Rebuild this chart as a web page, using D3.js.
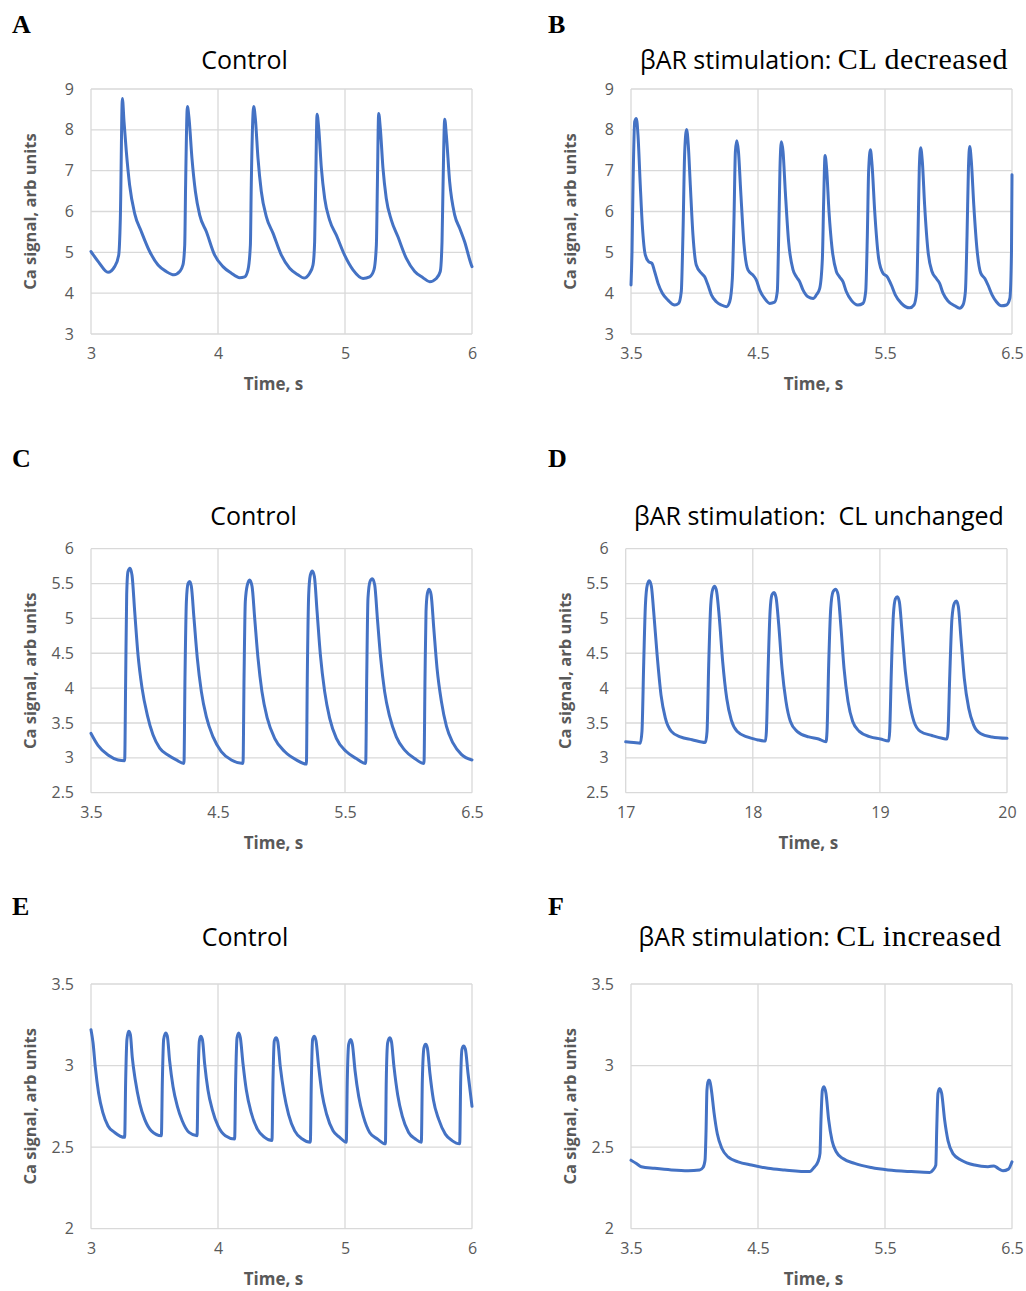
<!DOCTYPE html>
<html><head><meta charset="utf-8">
<script src="https://cdn.jsdelivr.net/npm/d3@7"></script>
<style>body{margin:0;background:#fff}</style>
</head><body>
<svg id="c" width="1026" height="1291" xmlns="http://www.w3.org/2000/svg"></svg>
<script>
// ---------- DATA ----------
const traceA = [[3,5.02],[3.06,4.76],[3.134,4.51],[3.186,4.65],[3.218,4.93],[3.231,5.83],[3.247,8.77],[3.26,8.2],[3.278,7.47],[3.304,6.65],[3.344,5.95],[3.396,5.51],[3.462,5.02],[3.528,4.69],[3.593,4.53],[3.654,4.45],[3.698,4.53],[3.724,4.69],[3.738,5.18],[3.745,6.65],[3.759,8.57],[3.772,8.28],[3.795,7.3],[3.822,6.49],[3.856,5.91],[3.908,5.51],[3.974,4.93],[4.039,4.65],[4.105,4.49],[4.171,4.38],[4.21,4.4],[4.236,4.57],[4.255,5.18],[4.262,6.65],[4.281,8.57],[4.294,8.28],[4.315,7.3],[4.341,6.49],[4.381,5.87],[4.433,5.47],[4.499,4.93],[4.564,4.61],[4.63,4.45],[4.677,4.37],[4.722,4.49],[4.748,4.69],[4.761,5.26],[4.769,6.65],[4.78,8.38],[4.793,8.04],[4.814,7.06],[4.84,6.32],[4.879,5.79],[4.932,5.42],[4.997,4.93],[5.063,4.57],[5.142,4.36],[5.194,4.4],[5.228,4.57],[5.247,5.18],[5.255,6.65],[5.265,8.4],[5.278,8.04],[5.299,7.06],[5.325,6.32],[5.365,5.79],[5.417,5.38],[5.483,4.85],[5.549,4.53],[5.614,4.38],[5.667,4.28],[5.719,4.36],[5.75,4.53],[5.764,5.26],[5.772,6.65],[5.785,8.26],[5.798,7.87],[5.824,6.73],[5.864,5.91],[5.903,5.59],[5.942,5.26],[5.995,4.69],[6,4.65]];

const traceB = [[3.5,4.2],[3.508,5.02],[3.516,6.65],[3.529,8.2],[3.542,8.28],[3.555,7.87],[3.573,6.65],[3.589,5.67],[3.613,4.93],[3.639,4.77],[3.665,4.73],[3.686,4.53],[3.713,4.24],[3.747,4.0],[3.791,3.83],[3.844,3.71],[3.875,3.75],[3.896,4.04],[3.909,5.42],[3.923,7.47],[3.938,8.01],[3.951,7.63],[3.967,6.65],[3.988,5.42],[4.014,4.69],[4.054,4.49],[4.08,4.4],[4.106,4.2],[4.133,3.96],[4.172,3.79],[4.211,3.71],[4.251,3.67],[4.277,3.79],[4.298,4.36],[4.311,5.83],[4.322,7.47],[4.333,7.73],[4.346,7.47],[4.364,6.49],[4.39,5.18],[4.421,4.57],[4.461,4.44],[4.487,4.32],[4.513,4.08],[4.552,3.87],[4.592,3.75],[4.631,3.78],[4.652,4.04],[4.663,5.42],[4.673,7.06],[4.684,7.71],[4.697,7.47],[4.715,6.49],[4.741,5.26],[4.776,4.57],[4.802,4.4],[4.828,4.28],[4.854,4.08],[4.894,3.91],[4.934,3.87],[4.96,3.96],[4.986,4.12],[5.007,4.85],[5.017,6.24],[5.028,7.37],[5.04,7.06],[5.059,6.0],[5.083,5.1],[5.117,4.53],[5.142,4.4],[5.169,4.28],[5.195,4.04],[5.234,3.83],[5.287,3.71],[5.327,3.75],[5.348,4.04],[5.361,5.42],[5.371,6.98],[5.385,7.51],[5.398,7.14],[5.419,6.0],[5.45,4.85],[5.484,4.49],[5.518,4.4],[5.55,4.2],[5.581,3.96],[5.629,3.75],[5.694,3.64],[5.728,3.71],[5.749,4.04],[5.76,5.42],[5.77,7.06],[5.781,7.56],[5.794,7.22],[5.812,6.16],[5.839,5.02],[5.87,4.53],[5.904,4.36],[5.93,4.24],[5.957,4.0],[5.996,3.81],[6.049,3.69],[6.088,3.63],[6.114,3.71],[6.133,4.04],[6.146,5.42],[6.157,7.06],[6.167,7.59],[6.18,7.22],[6.199,6.16],[6.226,5.02],[6.254,4.49],[6.286,4.36],[6.311,4.2],[6.343,3.96],[6.377,3.79],[6.417,3.69],[6.457,3.71],[6.483,3.87],[6.496,5.02],[6.5,6.9]];

const traceC = [[3.5,3.35],[3.555,3.18],[3.634,3.04],[3.713,2.97],[3.765,2.96],[3.773,4.14],[3.781,5.34],[3.791,5.67],[3.807,5.72],[3.823,5.62],[3.844,5.1],[3.87,4.48],[3.902,4.0],[3.944,3.61],[3.988,3.33],[4.041,3.14],[4.106,3.04],[4.172,2.97],[4.232,2.92],[4.24,4.14],[4.251,5.24],[4.264,5.5],[4.277,5.53],[4.29,5.46],[4.311,5.0],[4.337,4.43],[4.369,3.95],[4.408,3.59],[4.461,3.3],[4.526,3.09],[4.605,2.97],[4.697,2.92],[4.705,4.14],[4.715,5.24],[4.731,5.48],[4.749,5.55],[4.768,5.46],[4.789,5.0],[4.815,4.43],[4.846,3.95],[4.888,3.57],[4.946,3.28],[5.025,3.09],[5.117,2.97],[5.196,2.91],[5.203,4.14],[5.214,5.34],[5.227,5.62],[5.243,5.68],[5.259,5.6],[5.28,5.1],[5.306,4.48],[5.34,3.95],[5.379,3.57],[5.432,3.28],[5.51,3.09],[5.589,2.99],[5.663,2.92],[5.671,4.14],[5.681,5.29],[5.697,5.53],[5.715,5.57],[5.734,5.48],[5.755,5.0],[5.781,4.43],[5.812,3.95],[5.852,3.59],[5.904,3.3],[5.97,3.11],[6.049,2.99],[6.122,2.92],[6.13,4.14],[6.138,5.1],[6.149,5.36],[6.162,5.42],[6.178,5.34],[6.199,4.86],[6.225,4.28],[6.259,3.81],[6.299,3.45],[6.351,3.21],[6.416,3.05],[6.5,2.97]];

const traceD = [[17,3.23],[17.063,3.22],[17.115,3.21],[17.128,3.38],[17.142,4.38],[17.155,5.19],[17.17,5.48],[17.186,5.54],[17.202,5.46],[17.22,5.1],[17.247,4.48],[17.278,3.9],[17.312,3.57],[17.359,3.38],[17.43,3.3],[17.522,3.26],[17.627,3.22],[17.64,3.38],[17.653,4.33],[17.669,5.19],[17.685,5.42],[17.7,5.46],[17.716,5.38],[17.737,5.0],[17.763,4.38],[17.795,3.85],[17.831,3.54],[17.876,3.38],[17.955,3.3],[18.033,3.26],[18.099,3.24],[18.107,3.38],[18.12,4.24],[18.136,5.1],[18.151,5.34],[18.167,5.37],[18.183,5.3],[18.204,4.91],[18.23,4.28],[18.261,3.81],[18.296,3.52],[18.348,3.38],[18.44,3.3],[18.518,3.27],[18.576,3.23],[18.584,3.38],[18.597,4.33],[18.613,5.14],[18.631,5.38],[18.652,5.42],[18.671,5.34],[18.692,4.91],[18.718,4.28],[18.749,3.81],[18.786,3.52],[18.838,3.38],[18.925,3.3],[19.004,3.27],[19.069,3.24],[19.077,3.38],[19.09,4.24],[19.106,5.05],[19.122,5.28],[19.137,5.31],[19.153,5.24],[19.174,4.81],[19.2,4.24],[19.232,3.81],[19.268,3.52],[19.318,3.38],[19.41,3.32],[19.489,3.28],[19.528,3.27],[19.536,3.38],[19.549,4.14],[19.567,5.0],[19.586,5.22],[19.602,5.25],[19.617,5.17],[19.638,4.71],[19.664,4.14],[19.699,3.71],[19.738,3.47],[19.791,3.35],[19.882,3.3],[20,3.28]];

const traceE = [[3,3.22],[3.016,3.14],[3.034,2.99],[3.06,2.83],[3.094,2.71],[3.134,2.63],[3.186,2.59],[3.265,2.56],[3.273,2.91],[3.283,3.16],[3.297,3.21],[3.31,3.19],[3.325,3.05],[3.349,2.91],[3.383,2.77],[3.423,2.67],[3.475,2.6],[3.554,2.57],[3.562,2.91],[3.572,3.16],[3.588,3.2],[3.601,3.18],[3.619,3.03],[3.646,2.87],[3.68,2.75],[3.719,2.66],[3.772,2.59],[3.835,2.57],[3.843,2.91],[3.853,3.15],[3.864,3.18],[3.877,3.16],[3.895,3.01],[3.921,2.85],[3.955,2.73],[4.0,2.63],[4.058,2.57],[4.131,2.55],[4.139,2.91],[4.15,3.17],[4.163,3.2],[4.176,3.17],[4.197,3.01],[4.223,2.85],[4.262,2.71],[4.31,2.61],[4.367,2.56],[4.425,2.54],[4.433,2.91],[4.443,3.15],[4.457,3.17],[4.47,3.15],[4.491,2.99],[4.52,2.83],[4.556,2.7],[4.604,2.6],[4.664,2.55],[4.727,2.53],[4.735,2.91],[4.745,3.16],[4.759,3.18],[4.772,3.15],[4.793,2.99],[4.819,2.83],[4.856,2.7],[4.906,2.6],[4.958,2.56],[5.01,2.53],[5.018,2.91],[5.029,3.13],[5.045,3.16],[5.058,3.13],[5.079,2.97],[5.108,2.81],[5.144,2.69],[5.194,2.59],[5.255,2.55],[5.318,2.52],[5.325,2.91],[5.336,3.14],[5.352,3.17],[5.365,3.15],[5.386,2.99],[5.415,2.82],[5.451,2.69],[5.501,2.59],[5.554,2.55],[5.601,2.53],[5.609,2.91],[5.622,3.11],[5.635,3.13],[5.648,3.11],[5.669,2.95],[5.696,2.79],[5.738,2.67],[5.79,2.58],[5.843,2.54],[5.903,2.52],[5.911,2.91],[5.921,3.1],[5.934,3.12],[5.948,3.1],[5.969,2.95],[6,2.75]];

const traceF = [[3.5,2.42],[3.542,2.4],[3.581,2.38],[3.686,2.37],[3.818,2.36],[3.949,2.355],[4.041,2.36],[4.067,2.375],[4.083,2.42],[4.091,2.6],[4.098,2.85],[4.109,2.91],[4.119,2.91],[4.133,2.85],[4.154,2.71],[4.18,2.58],[4.217,2.49],[4.264,2.44],[4.343,2.41],[4.448,2.39],[4.579,2.37],[4.71,2.36],[4.907,2.35],[4.946,2.38],[4.972,2.41],[4.988,2.46],[4.996,2.67],[5.007,2.85],[5.02,2.87],[5.035,2.83],[5.056,2.67],[5.083,2.54],[5.117,2.47],[5.169,2.43],[5.261,2.4],[5.392,2.375],[5.524,2.36],[5.707,2.35],[5.852,2.345],[5.878,2.36],[5.9,2.39],[5.907,2.6],[5.917,2.83],[5.93,2.86],[5.946,2.83],[5.969,2.67],[5.996,2.54],[6.035,2.46],[6.101,2.42],[6.206,2.39],[6.311,2.38],[6.358,2.385],[6.39,2.37],[6.429,2.355],[6.472,2.365],[6.5,2.41]];

const xTicksA = [3,4,5,6], yTicksA = [3,4,5,6,7,8,9];
const xTicksB = [3.5,4.5,5.5,6.5], yTicksB = [3,4,5,6,7,8,9];
const xTicksC = [3.5,4.5,5.5,6.5], yTicksC = [2.5,3,3.5,4,4.5,5,5.5,6];
const xTicksD = [17,18,19,20], yTicksD = [2.5,3,3.5,4,4.5,5,5.5,6];
const xTicksE = [3,4,5,6], yTicksE = [2,2.5,3,3.5];
const xTicksF = [3.5,4.5,5.5,6.5], yTicksF = [2,2.5,3,3.5];

const panelLetters = ["A","B","C","D","E","F"];
// title: [sans part, serif part]
const titleA = ["Control", ""];
const titleB = ["βAR stimulation: ", "CL decreased"];
const titleC = ["Control", ""];
const titleD = ["βAR stimulation:  CL unchanged", ""];
const titleE = ["Control", ""];
const titleF = ["βAR stimulation: ", "CL increased"];
const xAxisTitle = "Time, s";
const yAxisTitle = "Ca signal, arb units";

// ---------- LAYOUT ----------
const SANS = "'Open Sans', 'Noto Sans', sans-serif";
const SERIF = "'Liberation Serif', 'DejaVu Serif', serif";
const LINE = "#4472C4", GRID = "#d9d9d9", LAB = "#595959";

const panels = [
  {letter:panelLetters[0], data:traceA, xT:xTicksA, yT:yTicksA, title:titleA, box:[91,89,472,334], lp:[12,33], tp:[244.5,69]},
  {letter:panelLetters[1], data:traceB, xT:xTicksB, yT:yTicksB, title:titleB, box:[631,89,1012,334], lp:[548,33], tp:[824,69]},
  {letter:panelLetters[2], data:traceC, xT:xTicksC, yT:yTicksC, title:titleC, box:[91,548.7,472,792.7], lp:[12,467], tp:[253.5,525]},
  {letter:panelLetters[3], data:traceD, xT:xTicksD, yT:yTicksD, title:titleD, box:[625.7,548.7,1007,792.7], lp:[548,467], tp:[819,525]},
  {letter:panelLetters[4], data:traceE, xT:xTicksE, yT:yTicksE, title:titleE, box:[91,984,472,1228.7], lp:[12,915], tp:[245,946]},
  {letter:panelLetters[5], data:traceF, xT:xTicksF, yT:yTicksF, title:titleF, box:[631,984,1012,1228.7], lp:[548,915], tp:[820,946]}
];

const svg = d3.select("#c");

panels.forEach(p => {
  const [x0,y0,x1,y1] = p.box;
  const x = d3.scaleLinear().domain(d3.extent(p.xT)).range([x0,x1]);
  const y = d3.scaleLinear().domain(d3.extent(p.yT)).range([y1,y0]);
  const g = svg.append("g");

  // gridlines
  g.selectAll(".hg").data(p.yT).join("line")
    .attr("x1",x0).attr("x2",x1).attr("y1",d=>y(d)).attr("y2",d=>y(d))
    .attr("stroke",GRID).attr("stroke-width",1.3);
  g.selectAll(".vg").data(p.xT).join("line")
    .attr("y1",y0).attr("y2",y1).attr("x1",d=>x(d)).attr("x2",d=>x(d))
    .attr("stroke",GRID).attr("stroke-width",1.3);

  // axes (labels only)
  const ya = g.append("g").attr("transform",`translate(${x0},0)`)
    .call(d3.axisLeft(y).tickValues(p.yT).tickSize(0).tickPadding(17).tickFormat(d=>String(d)));
  ya.select(".domain").remove();
  ya.selectAll("text").attr("fill",LAB).style("font-family",SANS).style("font-size","16px");
  const xa = g.append("g").attr("transform",`translate(0,${y1})`)
    .call(d3.axisBottom(x).tickValues(p.xT).tickSize(0).tickPadding(14).tickFormat(d=>String(d)));
  xa.select(".domain").remove();
  xa.selectAll("text").attr("fill",LAB).style("font-family",SANS).style("font-size","16px");

  // trace
  g.append("path").datum(p.data)
    .attr("d", d3.line().x(d=>x(d[0])).y(d=>y(d[1])).curve(d3.curveMonotoneX))
    .attr("fill","none").attr("stroke",LINE).attr("stroke-width",3)
    .attr("stroke-linejoin","round").attr("stroke-linecap","round");

  // axis titles
  g.append("text").attr("x",(x0+x1)/2-8).attr("y",y1+56)
    .attr("text-anchor","middle").attr("fill",LAB)
    .style("font-family",SANS).style("font-weight","bold").style("font-size","17px")
    .text(xAxisTitle);
  g.append("text").attr("transform",`translate(${x0-55},${(y0+y1)/2}) rotate(-90)`)
    .attr("text-anchor","middle").attr("fill",LAB)
    .style("font-family",SANS).style("font-weight","bold").style("font-size","16.5px")
    .text(yAxisTitle);

  // chart title
  const t = g.append("text").attr("x",p.tp[0]).attr("y",p.tp[1])
    .attr("text-anchor","middle").attr("fill","#000").attr("xml:space","preserve")
    .style("white-space","pre");
  t.append("tspan").style("font-family",SANS).style("font-size","25px").text(p.title[0]);
  if (p.title[1]) t.append("tspan").style("font-family",SERIF).style("font-size","30px")
    .style("letter-spacing","0.6px").text(p.title[1]);

  // panel letter
  svg.append("text").attr("x",p.lp[0]).attr("y",p.lp[1])
    .style("font-family",SERIF).style("font-weight","bold").style("font-size","26px")
    .attr("fill","#000").text(p.letter);
});
</script>
</body></html>
